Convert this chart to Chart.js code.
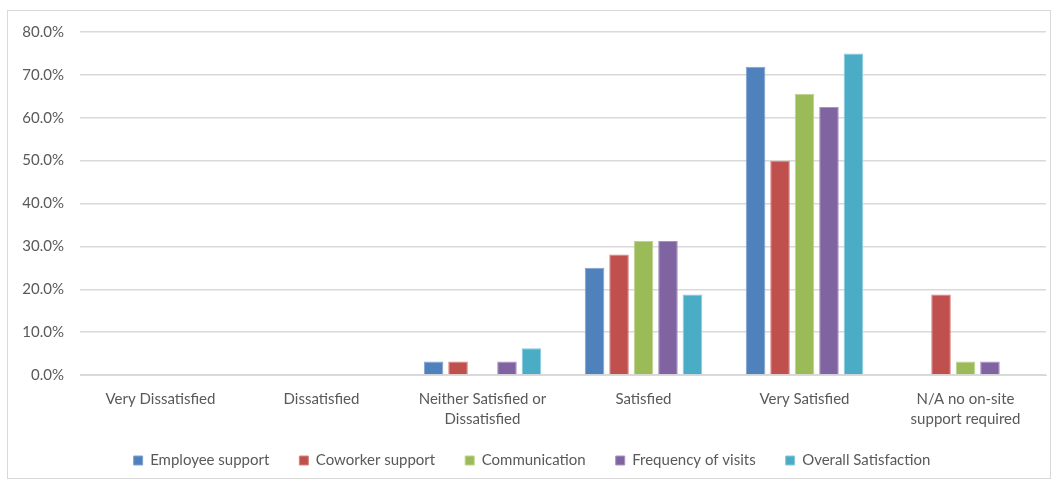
<!DOCTYPE html>
<html>
<head>
<meta charset="utf-8">
<script src="https://cdn.jsdelivr.net/npm/chart.js@4/dist/chart.umd.min.js"></script>
<style>
  html, body { margin: 0; padding: 0; background: #fff; }
  #wrap {
    position: absolute; left: 7px; top: 10px;
    width: 1042px; height: 467px;
    border: 1px solid #d9d9d9;
  }
</style>
</head>
<body>
<div id="wrap"><canvas id="satChart"></canvas></div>
<script>
const categories = [
  "Very Dissatisfied",
  "Dissatisfied",
  ["Neither Satisfied or", "Dissatisfied"],
  "Satisfied",
  "Very Satisfied",
  ["N/A no on-site", "support required"]
];
const employeeSupport = [0, 0, 3.125, 25.0, 71.875, 0];
const coworkerSupport = [0, 0, 3.125, 28.125, 50.0, 18.75];
const communication = [0, 0, 0, 31.25, 65.625, 3.125];
const frequencyOfVisits = [0, 0, 3.125, 31.25, 62.5, 3.125];
const overallSatisfaction = [0, 0, 6.25, 18.75, 75.0, 0];
const yTicks = [0, 10, 20, 30, 40, 50, 60, 70, 80];

const FONT = "Lato, 'Open Sans', sans-serif";
const LEGEND_LIFT = 6;

function series(label, data, fill, edge) {
    return {
        label: label,
        data: data,
        backgroundColor: fill,
        borderColor: edge,
        borderWidth: 1,
        categoryPercentage: 0.76,
        barPercentage: 0.8
    };
}

// wide legend padding keeps the items apart; shave the top gap off the box
const legendTrim = {
    id: "legendTrim",
    afterInit(chart) {
        const lg = chart.legend;
        if (!lg) return;
        const fit = lg.fit;
        const draw = lg._draw;
        lg.fit = function () {
            fit.call(this);
            this.height -= LEGEND_LIFT;
        };
        lg._draw = function () {
            this.ctx.save();
            this.ctx.translate(0, -LEGEND_LIFT);
            draw.call(this);
            this.ctx.restore();
        };
    }
};

const ctx = document.getElementById("satChart").getContext("2d");
new Chart(ctx, {
    type: "bar",
    data: {
        labels: categories,
        datasets: [
            series("Employee support", employeeSupport, "#4F81BD", "#7fa3d0"),
            series("Coworker support", coworkerSupport, "#C0504D", "#d9837f"),
            series("Communication", communication, "#9BBB59", "#bcd48a"),
            series("Frequency of visits", frequencyOfVisits, "#8064A2", "#a892c2"),
            series("Overall Satisfaction", overallSatisfaction, "#4BACC6", "#86cbdc")
        ]
    },
    plugins: [legendTrim],
    options: {
        responsive: true,
        maintainAspectRatio: false,
        animation: false,
        layout: { padding: { left: 10, right: 4, top: 21, bottom: 0 } },
        plugins: {
            legend: {
                position: "bottom",
                labels: {
                    boxWidth: 9,
                    boxHeight: 9,
                    padding: 30,
                    color: "#595959",
                    font: { family: FONT, size: 15 }
                }
            },
            tooltip: { enabled: false }
        },
        scales: {
            x: {
                grid: { display: false, drawTicks: false },
                border: { color: "#d9d9d9", width: 1 },
                afterFit: function (axis) { axis.height = 54; },
                ticks: {
                    color: "#595959",
                    padding: 14,
                    maxRotation: 0,
                    font: { family: FONT, size: 15, lineHeight: 1.33 }
                }
            },
            y: {
                min: 0,
                max: 80,
                afterBuildTicks: function (axis) {
                    axis.ticks = yTicks.map(v => ({ value: v }));
                },
                afterFit: function (axis) {
                    axis.width = 62;
                    axis.paddingTop = 0;
                    axis.paddingBottom = 0;
                },
                grid: { color: "#d9d9d9", lineWidth: 1.5, drawTicks: false },
                border: { display: false },
                ticks: {
                    color: "#595959",
                    padding: 16,
                    font: { family: FONT, size: 15 },
                    callback: v => v.toFixed(1) + "%"
                }
            }
        }
    }
});
</script>
</body>
</html>
